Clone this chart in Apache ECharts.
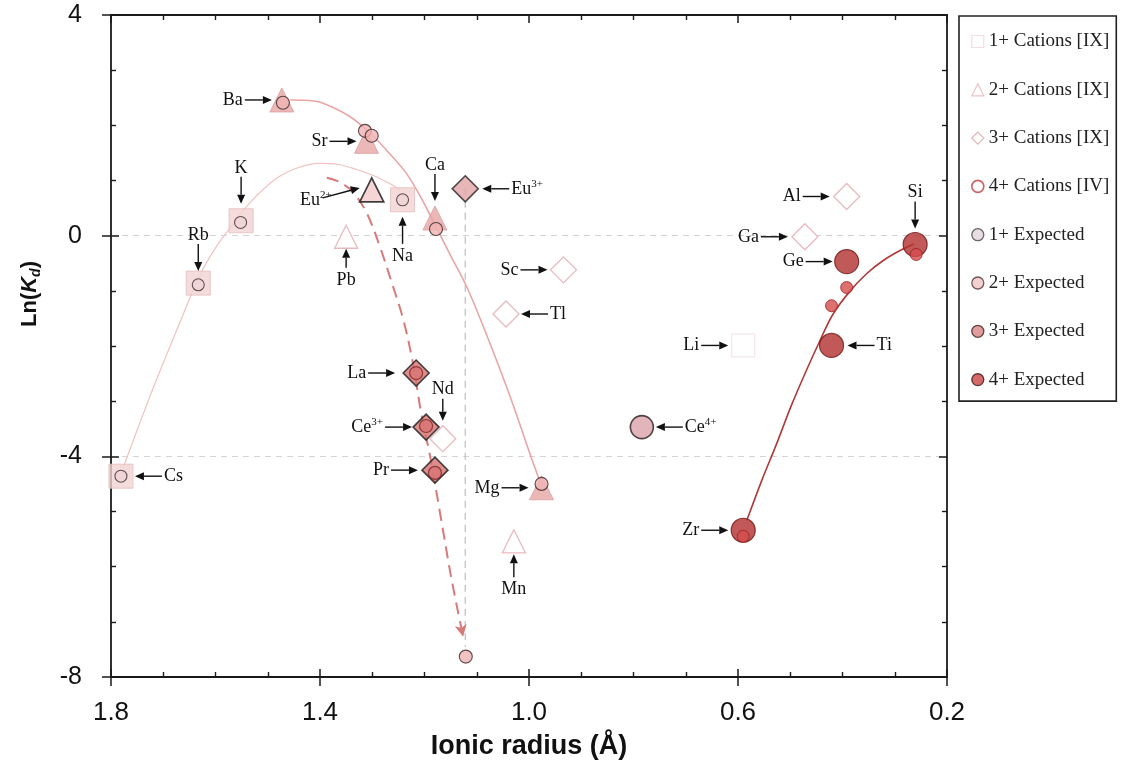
<!DOCTYPE html>
<html>
<head>
<meta charset="utf-8">
<title>Ln(Kd) vs ionic radius</title>
<script src="https://cdn.jsdelivr.net/npm/echarts@6/dist/echarts.min.js"></script>
<style>
html, body { margin: 0; padding: 0; background: #fff; }
#chart { width: 1124px; height: 771px; }
</style>
</head>
<body>
<div id="chart"></div>
<script>
// measured cations: [element, ionic radius (A), Ln(Kd)]
var cations1 = [['Cs', 1.781, -4.36], ['Rb', 1.633, -0.86], ['K', 1.551, 0.27], ['Na', 1.242, 0.65], ['Li', 0.590, -1.99]];
var cations2 = [['Ba', 1.473, 2.46], ['Sr', 1.311, 1.71], ['Ca', 1.180, 0.32], ['Mg', 0.976, -4.57], ['Eu2+', 1.301, 0.83], ['Pb', 1.350, -0.02], ['Mn', 1.029, -5.54]];
var cations3 = [['La', 1.216, -2.49], ['Ce3+', 1.197, -3.47], ['Pr', 1.180, -4.25], ['Nd', 1.165, -3.68], ['Eu3+', 1.122, 0.85], ['Sc', 0.934, -0.62], ['Tl', 1.044, -1.42], ['Al', 0.392, 0.71], ['Ga', 0.472, -0.02]];
var cations4 = [['Si', 0.261, -0.16], ['Ge', 0.392, -0.47], ['Ti', 0.421, -1.99], ['Zr', 0.590, -5.34], ['Ce4+', 0.784, -3.47]];

// expected values
var expected1 = [[1.781, -4.36], [1.633, -0.89], [1.552, 0.24], [1.242, 0.65]];
var expected2 = [[1.471, 2.41], [1.314, 1.90], [1.301, 1.81], [1.178, 0.12], [0.976, -4.50], [1.121, -7.63]];
var expected3 = [[1.216, -2.49], [1.197, -3.45], [1.180, -4.30]];
var expected4 = [[0.259, -0.34], [0.392, -0.94], [0.421, -1.27], [0.590, -5.45]];

// fitted curves
var fit1 = [[1.776, -4.19], [1.720, -2.78], [1.665, -1.50], [1.630, -0.72], [1.600, -0.22], [1.572, 0.14], [1.534, 0.60], [1.483, 1.04], [1.440, 1.24], [1.400, 1.31], [1.365, 1.29], [1.330, 1.20], [1.298, 1.09], [1.266, 0.94], [1.247, 0.83]];
var fit2 = [[1.457, 2.46], [1.420, 2.45], [1.394, 2.40], [1.343, 2.16], [1.301, 1.83], [1.268, 1.50], [1.234, 1.12], [1.205, 0.66], [1.180, 0.20], [1.150, -0.36], [1.119, -0.93], [1.081, -1.80], [1.036, -2.92], [0.998, -3.96], [0.979, -4.46]];
var fit4 = [[0.583, -5.16], [0.555, -4.45], [0.526, -3.77], [0.498, -3.08], [0.469, -2.44], [0.443, -1.90], [0.418, -1.42], [0.386, -1.01], [0.354, -0.69], [0.322, -0.45], [0.290, -0.27], [0.264, -0.15]];
var euPath = [[1.387, 1.05], [1.362, 0.97], [1.337, 0.79], [1.310, 0.40], [1.285, -0.21], [1.262, -0.87], [1.240, -1.54], [1.222, -2.32], [1.205, -3.29], [1.189, -4.01], [1.170, -5.04], [1.148, -6.24], [1.126, -7.27]];
var euDrop = [[1.122, 0.85], [1.122, -7.45]];

var xTicks = [1.8, 1.4, 1.0, 0.6, 0.2];
var yTicks = [4, 0, -4, -8];
var groups = ['1+ Cations [IX]', '2+ Cations [IX]', '3+ Cations [IX]', '4+ Cations [IV]', '1+ Expected', '2+ Expected', '3+ Expected', '4+ Expected'];

// element label, side of the label, gap to marker centre, arrow length
var notes = [
	['Cs', 'R', 14], ['Rb', 'T', 12], ['K', 'T', 17], ['Na', 'B', 17], ['Li', 'L', 15],
	['Ba', 'L', 10], ['Sr', 'L', 10], ['Ca', 'T', 17], ['Mg', 'L', 13], ['Eu2+', 'D', 12], ['Pb', 'B', 12, 19], ['Mn', 'B', 13, 23],
	['La', 'L', 21], ['Ce3+', 'L', 14], ['Pr', 'L', 17], ['Nd', 'T', 18, 22], ['Eu3+', 'R', 17], ['Sc', 'L', 16], ['Tl', 'R', 15], ['Al', 'L', 17], ['Ga', 'L', 17],
	['Si', 'T', 16], ['Ge', 'L', 14], ['Ti', 'R', 16], ['Zr', 'L', 15], ['Ce4+', 'R', 14]
];

var serif = "'Liberation Serif', 'Times New Roman', serif";
var sans = "'Liberation Sans', Arial, sans-serif";
var openMarks = ['Li', 'Pb', 'Mn', 'Nd', 'Sc', 'Tl', 'Al', 'Ga'];

var lookup = {};
[cations1, cations2, cations3, cations4].forEach(function(rows) {
	rows.forEach(function(r) { lookup[r[0]] = [r[1], r[2]]; });
});

function toItems(rows, styleOf) {
	return rows.map(function(r) {
		var item = { name: r[0], value: [r[1], r[2]] };
		var s = styleOf(r[0]);
		if (s) {
			item.itemStyle = s.itemStyle;
			if (s.symbolSize) item.symbolSize = s.symbolSize;
		}
		return item;
	});
}

var openStyle = { color: '#fff', borderColor: '#e4a8b0', borderWidth: 1.3 };

function richName(name) {
	var m = name.match(/^([A-Za-z]+)(\d\+)?$/);
	return '{m|' + m[1] + '}' + (m[2] ? '{s|' + m[2] + '}' : '');
}

function renderNote(params, api) {
	var n = notes[params.dataIndex];
	var p = api.coord([api.value(0), api.value(1)]);
	var gap = n[2], len = n[3] || 27;
	var tip, tail, tx, ty, align = 'center';
	if (n[1] === 'L') {
		tip = [p[0] - gap, p[1]]; tail = [tip[0] - len, p[1]];
		tx = tail[0] - 2; ty = p[1]; align = 'right';
	} else if (n[1] === 'R') {
		tip = [p[0] + gap, p[1]]; tail = [tip[0] + len, p[1]];
		tx = tail[0] + 2; ty = p[1]; align = 'left';
	} else if (n[1] === 'T') {
		tip = [p[0], p[1] - gap]; tail = [p[0], tip[1] - len];
		tx = p[0]; ty = tail[1] - 9;
	} else if (n[1] === 'B') {
		tip = [p[0], p[1] + gap]; tail = [p[0], tip[1] + len];
		tx = p[0]; ty = tail[1] + 12;
	} else {
		tip = [p[0] - gap, p[1] - 2]; tail = [p[0] - 49, p[1] + 8];
		tx = p[0] - 40; ty = p[1] + 10; align = 'right';
	}
	var dx = tip[0] - tail[0], dy = tip[1] - tail[1];
	var d = Math.sqrt(dx * dx + dy * dy), ux = dx / d, uy = dy / d;
	var hb = [tip[0] - ux * 9, tip[1] - uy * 9];
	return {
		type: 'group',
		children: [{
			type: 'line',
			shape: { x1: tail[0], y1: tail[1], x2: hb[0], y2: hb[1] },
			style: { stroke: '#111', lineWidth: 1.4 }
		}, {
			type: 'polygon',
			shape: { points: [tip, [hb[0] - uy * 4, hb[1] + ux * 4], [hb[0] + uy * 4, hb[1] - ux * 4]] },
			style: { fill: '#111' }
		}, {
			type: 'text',
			x: tx,
			y: ty,
			style: {
				text: richName(n[0]),
				align: align,
				verticalAlign: 'middle',
				fill: '#111',
				rich: {
					m: { fontSize: 18, fontFamily: serif, fill: '#111', lineHeight: 20 },
					s: { fontSize: 11, fontFamily: serif, fill: '#111', lineHeight: 12, verticalAlign: 'top' }
				}
			}
		}]
	};
}

var xMin = Math.min.apply(null, xTicks), xMax = Math.max.apply(null, xTicks);
var yMin = Math.min.apply(null, yTicks), yMax = Math.max.apply(null, yTicks);
var axisColor = '#1a1a1a';

function xAxisOf(pos, main) {
	return {
		type: 'value', min: xMin, max: xMax, interval: 0.4, inverse: true, position: pos,
		axisLine: { show: pos === 'top' || main, onZero: false, lineStyle: { color: axisColor, width: 1.8 } },
		axisTick: { show: true, inside: !main, length: main ? 9 : 8, lineStyle: { color: axisColor, width: 1.5 } },
		minorTick: { show: !main, splitNumber: 4, length: 5, lineStyle: { color: axisColor, width: 1.4 } },
		axisLabel: { show: main, margin: 23, fontSize: 26, fontFamily: sans, color: '#111', formatter: function(v) { return v.toFixed(1); } },
		splitLine: { show: false },
		name: main ? 'Ionic radius (Å)' : '',
		nameLocation: 'middle',
		nameGap: 56,
		nameTextStyle: { fontSize: 27, fontWeight: 'bold', fontFamily: sans, color: '#111' }
	};
}

function yAxisOf(pos, main) {
	return {
		type: 'value', min: yMin, max: yMax, interval: 4, position: pos,
		axisLine: { show: pos === 'right' || main, onZero: false, lineStyle: { color: axisColor, width: 1.8 } },
		axisTick: { show: true, inside: !main, length: main ? 9 : 8, lineStyle: { color: axisColor, width: 1.5 } },
		minorTick: { show: !main, splitNumber: 4, length: 5, lineStyle: { color: axisColor, width: 1.4 } },
		axisLabel: { show: main, margin: 29, fontSize: 25, fontFamily: sans, color: '#111' },
		splitLine: { show: main, showMinLine: false, showMaxLine: false, lineStyle: { color: '#d4d4d4', type: [6, 5], width: 1 } },
		name: main ? '{a|Ln(}{b|K}{c|d}{a|)}' : '',
		nameLocation: 'middle',
		nameRotate: 90,
		nameGap: 68,
		nameTextStyle: {
			padding: [0, 0, 0, 104],
			rich: {
				a: { fontSize: 22, fontWeight: 'bold', fontFamily: sans, color: '#111', lineHeight: 26 },
				b: { fontSize: 22, fontWeight: 'bold', fontStyle: 'italic', fontFamily: sans, color: '#111', lineHeight: 26 },
				c: { fontSize: 14, fontWeight: 'bold', fontStyle: 'italic', fontFamily: sans, color: '#111', lineHeight: 14, verticalAlign: 'bottom' }
			}
		}
	};
}

function curve(data, color, width, dash, z) {
	return {
		type: 'line', data: data, smooth: 0.35, symbol: 'none', silent: true, z: z || 1,
		lineStyle: { color: color, width: width, type: dash || 'solid' }
	};
}

var euLine = curve(euPath.map(function(p, i) {
	if (i < euPath.length - 1) return p;
	return { value: p, symbol: 'arrow', symbolSize: [9, 12], symbolRotate: 192, itemStyle: { color: '#d87a7a' } };
}), '#d87a7a', 2, [12, 7], 2);
euLine.showSymbol = true;

var option = {
	backgroundColor: '#fff',
	animation: false,
	grid: { left: 111, right: 177, top: 15, bottom: 94, containLabel: false },
	xAxis: [xAxisOf('bottom', true), xAxisOf('bottom', false), xAxisOf('top', false)],
	yAxis: [yAxisOf('left', true), yAxisOf('left', false), yAxisOf('right', false)],
	legend: {
		data: [
			{ name: groups[0], icon: 'rect', itemStyle: { color: '#fff', borderColor: '#f0d6da', borderWidth: 1.2 } },
			{ name: groups[1], icon: 'triangle', itemStyle: { color: '#fff', borderColor: '#e8b0b8', borderWidth: 1.2 } },
			{ name: groups[2], icon: 'diamond', itemStyle: { color: '#fff', borderColor: '#dca0a8', borderWidth: 1.2 } },
			{ name: groups[3], icon: 'circle', itemStyle: { color: '#fff', borderColor: '#c03a3a', borderWidth: 1.6 } },
			{ name: groups[4], icon: 'circle', itemStyle: { color: '#e2d4dc', borderColor: '#444', borderWidth: 1.3 } },
			{ name: groups[5], icon: 'circle', itemStyle: { color: '#f0c4c4', borderColor: '#553333', borderWidth: 1.3 } },
			{ name: groups[6], icon: 'circle', itemStyle: { color: '#d88484', borderColor: '#442222', borderWidth: 1.3 } },
			{ name: groups[7], icon: 'circle', itemStyle: { color: '#c84444', borderColor: '#331111', borderWidth: 1.3 } }
		],
		orient: 'vertical',
		left: 959,
		top: 16,
		itemWidth: 12,
		itemHeight: 12,
		itemGap: 29.3,
		padding: [16, 7, 12, 12],
		borderColor: '#222',
		borderWidth: 1.6,
		selectedMode: false,
		textStyle: { fontFamily: serif, fontSize: 19, lineHeight: 19, color: '#222' }
	},
	series: [
		curve(fit1, '#f0c2c2', 1.2),
		curve(fit2, '#e8a6a6', 1.6),
		curve(fit4, '#b03838', 1.6),
		curve(euDrop, '#bdbdbd', 1.2, [7, 5]),
		euLine,
		{
			name: groups[0], type: 'scatter', symbol: 'rect', symbolSize: 24, z: 3,
			itemStyle: { color: '#f2d3d3', borderColor: '#e6bcbc', borderWidth: 1 },
			data: toItems(cations1, function(n) {
				if (n === 'Li') return { itemStyle: { color: '#fff', borderColor: '#f3e0e3', borderWidth: 1.2 }, symbolSize: 23 };
			})
		},
		{
			name: groups[1], type: 'scatter', symbol: 'triangle', symbolSize: 24, z: 3,
			itemStyle: { color: '#e6a6a6', borderColor: '#e09c9c', borderWidth: 1 },
			data: toItems(cations2, function(n) {
				if (n === 'Eu2+') return { itemStyle: { color: '#f2caca', borderColor: '#111', borderWidth: 1.7 } };
				if (openMarks.indexOf(n) >= 0) return { itemStyle: openStyle, symbolSize: 23 };
			})
		},
		{
			name: groups[2], type: 'scatter', symbol: 'diamond', symbolSize: 26, z: 3,
			itemStyle: { color: '#d67070', borderColor: '#1a1a1a', borderWidth: 1.6 },
			data: toItems(cations3, function(n) {
				if (n === 'Eu3+') return { itemStyle: { color: '#e2a4a4', borderColor: '#222', borderWidth: 1.6 } };
				if (openMarks.indexOf(n) >= 0) return { itemStyle: openStyle };
			})
		},
		{
			name: groups[3], type: 'scatter', symbol: 'circle', symbolSize: 24, z: 3,
			itemStyle: { color: '#b3302f', borderColor: '#701616', borderWidth: 1.2 },
			data: toItems(cations4, function(n) {
				if (n === 'Ce4+') return { itemStyle: { color: '#d9a3aa', borderColor: '#2a1a1a', borderWidth: 1.6 }, symbolSize: 23 };
			})
		},
		{
			name: groups[4], type: 'scatter', symbol: 'circle', symbolSize: 12, z: 4,
			itemStyle: { color: '#efd3d6', borderColor: '#3c2c2c', borderWidth: 1.1 },
			data: expected1
		},
		{
			name: groups[5], type: 'scatter', symbol: 'circle', symbolSize: 13, z: 4,
			itemStyle: { color: '#f0b4b4', borderColor: '#3a2222', borderWidth: 1.1 },
			data: expected2
		},
		{
			name: groups[6], type: 'scatter', symbol: 'circle', symbolSize: 13, z: 4,
			itemStyle: { color: '#d87474', borderColor: '#7a2424', borderWidth: 1.2 },
			data: expected3
		},
		{
			name: groups[7], type: 'scatter', symbol: 'circle', symbolSize: 12, z: 4,
			itemStyle: { color: '#d44c4c', borderColor: '#9a2020', borderWidth: 1 },
			data: expected4
		},
		{
			type: 'custom', silent: true, z: 5, clip: false,
			encode: { x: 0, y: 1 },
			renderItem: renderNote,
			data: notes.map(function(n) { return lookup[n[0]]; })
		}
	]
};

var myChart = echarts.init(document.getElementById('chart'));
myChart.setOption(option);
</script>
</body>
</html>
